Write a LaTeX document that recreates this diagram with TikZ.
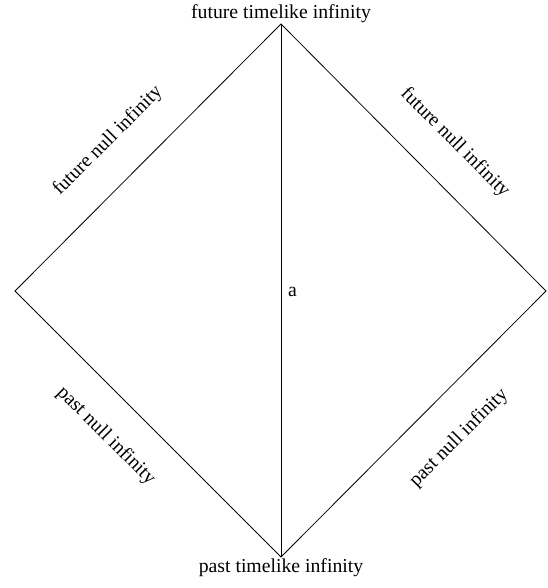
\documentclass[tikz,border=0pt]{standalone}
\usepackage{fontspec}
\setmainfont{Liberation Serif}
\usetikzlibrary{positioning}
\tikzset{rand/.style={font=\fontsize{14.8}{17}\selectfont, inner sep=1pt}}
\tikzset{lijn/.style={draw=black, line width=0.6pt}}

\begin{document}
\begin{tikzpicture}[x=0.75pt, y=-0.75pt]
\useasboundingbox (0,0) rectangle (548,588);
\coordinate (top) at (281,24);
\coordinate (links) at (15,291);
\coordinate (rechts) at (546,291);
\coordinate (bodem) at (281,557);
\draw[lijn] (top) -- (rechts) -- (bodem) -- (links) -- cycle;
\draw[lijn] (top) -- node[rand, right=4pt, yshift=-1pt] (a) {a} (bodem);
\node[rand, above=0pt of top] (fti) {future timelike infinity};
\node[rand, below=0pt of bodem] (pti) {past timelike infinity};
\node[rand, rotate=45] (fnl) at (108,141) {future null infinity};
\node[rand, rotate=-45] (fnr) at (455,143) {future null infinity};
\node[rand, rotate=-45] (pnl) at (106,436) {past null infinity};
\node[rand, rotate=45] (pnr) at (459,438) {past null infinity};
\end{tikzpicture}
\end{document}
